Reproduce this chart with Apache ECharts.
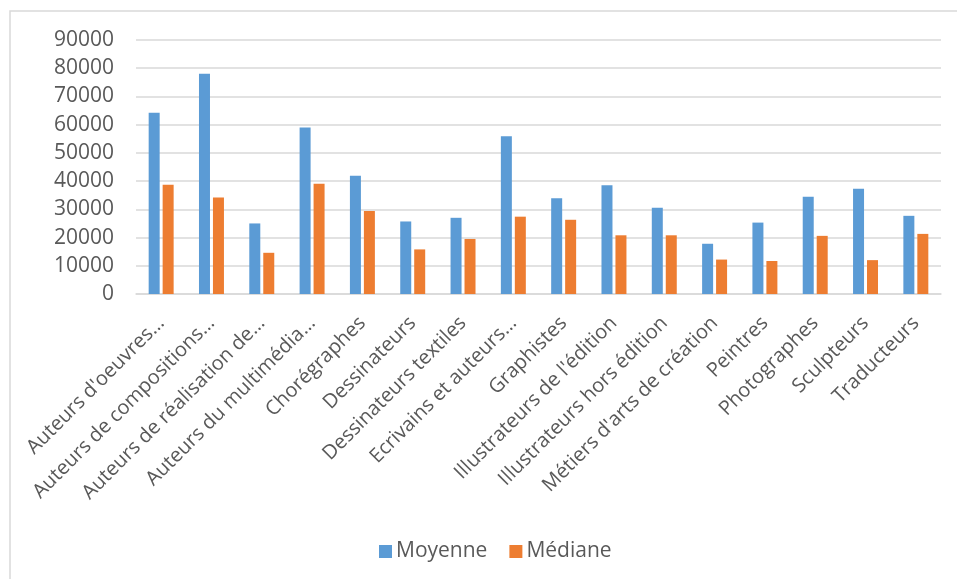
<!DOCTYPE html>
<html>
<head>
<meta charset="utf-8">
<script src="https://cdn.jsdelivr.net/npm/echarts@6/dist/echarts.min.js"></script>
<style>
  html, body { margin: 0; padding: 0; background: #fff; }
  #chart { width: 957px; height: 579px; }
</style>
</head>
<body>
<div id="chart"></div>
<script>
// categories (truncated as in the original chart)
const categories = [
  "Auteurs d'oeuvres…",
  'Auteurs de compositions…',
  'Auteurs de réalisation de…',
  'Auteurs du multimédia…',
  'Chorégraphes',
  'Dessinateurs',
  'Dessinateurs textiles',
  'Ecrivains et auteurs…',
  'Graphistes',
  "Illustrateurs de l'édition",
  'Illustrateurs hors édition',
  "Métiers d'arts de création",
  'Peintres',
  'Photographes',
  'Sculpteurs',
  'Traducteurs'
]

const moyenne = [64200, 78000, 25000, 59000, 41900, 25700, 27000, 55900, 33900, 38500, 30600, 17800, 25300, 34500, 37300, 27700]
const mediane = [38700, 34200, 14600, 39100, 29400, 15800, 19500, 27400, 26300, 20800, 20800, 12200, 11700, 20600, 12000, 21300]

const FONT = '"Open Sans", sans-serif'

let chart = echarts.init(document.getElementById('chart'))

const option = {
  animation: false,
  graphic: [
    {
      type: 'rect',
      shape: { x: 10, y: 11, width: 970, height: 600 },
      style: { fill: 'none', stroke: '#d9d9d9', lineWidth: 1.5 },
      silent: true
    }
  ],
  grid: {
    left: 136,
    right: 16,
    top: 40,
    bottom: 285
  },
  legend: {
    data: ['Moyenne', 'Médiane'],
    top: 536,
    left: 374,
    itemWidth: 13,
    itemHeight: 13,
    itemGap: 22,
    icon: 'rect',
    textStyle: { fontFamily: FONT, fontSize: 21, color: '#595959', padding: [0, 0, 0, -1] }
  },
  xAxis: {
    type: 'category',
    data: categories,
    axisLine: { lineStyle: { color: '#d9d9d9', width: 1.5 } },
    axisTick: { show: false },
    axisLabel: {
      rotate: 45,
      interval: 0,
      margin: 26,
      fontFamily: FONT,
      fontSize: 20,
      color: '#595959'
    }
  },
  yAxis: {
    type: 'value',
    min: 0,
    max: 90000,
    interval: 10000,
    axisLine: { show: false },
    axisTick: { show: false },
    splitLine: { lineStyle: { color: '#d9d9d9', width: 1.5 } },
    axisLabel: {
      margin: 22,
      fontFamily: FONT,
      fontSize: 21,
      color: '#595959',
      formatter: v => String(v)
    }
  },
  series: [
    {
      name: 'Moyenne',
      type: 'bar',
      data: moyenne,
      barWidth: 11,
      barGap: '27%',
      itemStyle: { color: '#5b9bd5' }
    },
    {
      name: 'Médiane',
      type: 'bar',
      data: mediane,
      barWidth: 11,
      itemStyle: { color: '#ed7d31' }
    }
  ]
}

chart.setOption(option)
</script>
</body>
</html>
